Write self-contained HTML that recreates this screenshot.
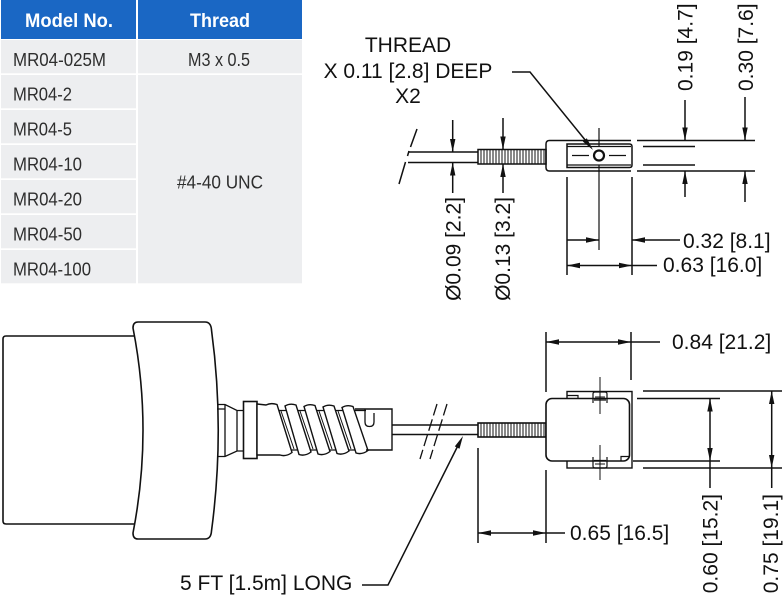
<!DOCTYPE html>
<html><head><meta charset="utf-8"><style>
html,body{margin:0;padding:0;background:#fff;overflow:hidden;}
svg{display:block;}
</style></head><body>
<svg width="783" height="599" viewBox="0 0 783 599" xmlns="http://www.w3.org/2000/svg">
<rect width="783" height="599" fill="#fff"/>
<!-- TABLE -->
<g>
<rect x="1" y="0" width="135" height="39" fill="#1a67c4"/>
<rect x="138" y="0" width="164" height="39" fill="#1a67c4"/>
<rect x="1" y="40" width="135" height="33.3" fill="#edeef0"/>
<rect x="1" y="75" width="135" height="33.3" fill="#edeef0"/>
<rect x="1" y="110" width="135" height="33.3" fill="#edeef0"/>
<rect x="1" y="145" width="135" height="33.3" fill="#edeef0"/>
<rect x="1" y="180" width="135" height="33.3" fill="#edeef0"/>
<rect x="1" y="215" width="135" height="33.3" fill="#edeef0"/>
<rect x="1" y="250" width="135" height="33.3" fill="#edeef0"/>
<rect x="138" y="40" width="164" height="33.3" fill="#edeef0"/>
<rect x="138" y="75" width="164" height="208.3" fill="#edeef0"/>
<g font-family="'Liberation Sans', Arial, sans-serif" font-weight="bold" font-size="19" fill="#fff">
<text x="25" y="27" textLength="88" lengthAdjust="spacingAndGlyphs">Model No.</text>
<text x="190" y="27" textLength="60" lengthAdjust="spacingAndGlyphs">Thread</text>
</g>
<g font-family="'Liberation Sans Narrow', 'Liberation Sans', Arial, sans-serif" font-size="18" fill="#2e2e2e">
<text x="13" y="66" textLength="93" lengthAdjust="spacingAndGlyphs">MR04-025M</text>
<text x="13" y="100.5" textLength="59" lengthAdjust="spacingAndGlyphs">MR04-2</text>
<text x="13" y="135.5" textLength="59" lengthAdjust="spacingAndGlyphs">MR04-5</text>
<text x="13" y="170.5" textLength="69" lengthAdjust="spacingAndGlyphs">MR04-10</text>
<text x="13" y="205.5" textLength="69" lengthAdjust="spacingAndGlyphs">MR04-20</text>
<text x="13" y="240.5" textLength="69" lengthAdjust="spacingAndGlyphs">MR04-50</text>
<text x="13" y="275.5" textLength="78" lengthAdjust="spacingAndGlyphs">MR04-100</text>
<text x="188" y="66" textLength="62" lengthAdjust="spacingAndGlyphs">M3 x 0.5</text>
<text x="177" y="188.5" textLength="86" lengthAdjust="spacingAndGlyphs">#4-40 UNC</text>
</g>
</g>

<!-- TOP RIGHT DETAIL -->
<g stroke="#111" fill="none" stroke-width="1.5">
<line x1="408" y1="152" x2="478" y2="152"/>
<line x1="408" y1="162.5" x2="478" y2="162.5"/>
<path d="M417,129 L410.5,147 M409,151 L407.5,156 M405.5,162 L399,184"/>
<rect x="478" y="149.5" width="68" height="14.5"/>
<path stroke-width="1" d="M481,149.5V164M484,149.5V164M487,149.5V164M490,149.5V164M493,149.5V164M496,149.5V164M499,149.5V164M502,149.5V164M505,149.5V164M508,149.5V164M511,149.5V164M514,149.5V164M517,149.5V164M520,149.5V164M523,149.5V164M526,149.5V164M529,149.5V164M532,149.5V164M535,149.5V164M538,149.5V164M541,149.5V164M544,149.5V164"/>
<path d="M631,140.5 H549.5 Q546,140.5 546,144 V167.5 Q546,171 549.5,171 H631"/>
<path d="M567,144 H629.5 Q632,144 632,146.5 V165 Q632,167.5 629.5,167.5 H567 Z"/>
<path stroke-width="1.2" d="M567,146.5 H631 M567,165 H631"/>
<circle cx="599" cy="155.5" r="5" stroke-width="2.2"/>
<path stroke-width="1.2" d="M572,155.5 H589 M609,155.5 H626 M599,128 V146 M599,165 V250"/>
<polyline points="512,72 530,72 588,143.5"/>
<!-- left dims -->
<path d="M452.7,120 V152 M452.7,193 V162.5 M503,118 V149.5 M503,193 V164"/>
<!-- right ext lines -->
<path d="M637,140.5 H755 M637,171 H755 M643,146.5 H695 M643,165 H695"/>
<path d="M685,100 V140.5 M685,197 V171 M745,97 V140.5 M745,202 V171"/>
<path d="M567,177 V275 M632,177 V275"/>
<path d="M567,240 H599 M632,240 H680 M567,265.5 H657"/>
</g>
<g fill="#111" stroke="none">
<polygon points="593,150 582.8,141.5 586.8,138.3"/>
<polygon points="452.7,152 450,139 455.4,139"/>
<polygon points="503,149.5 500.3,136.5 505.7,136.5"/>
<polygon points="685,140.5 682.3,127.5 687.7,127.5"/>
<polygon points="745,140.5 742.3,127.5 747.7,127.5"/>
<polygon points="452.7,162.5 450,175.5 455.4,175.5"/>
<polygon points="503,164 500.3,177 505.7,177"/>
<polygon points="685,171 682.3,184 687.7,184"/>
<polygon points="745,171 742.3,184 747.7,184"/>
<polygon points="599,240 586,237.3 586,242.7"/>
<polygon points="632,240 645,237.3 645,242.7"/>
<polygon points="632,265.5 619,262.8 619,268.2"/>
<polygon points="567,265.5 580,262.8 580,268.2"/>
</g>

<!-- BOTTOM DRAWING -->
<g stroke="#111" fill="none" stroke-width="1.6">
<path d="M134,336 H6 Q3,336 3,339 V521 Q3,524 6,524 H134"/>
<path fill="#fff" d="M138,322 H205 Q211,322 211.5,330 Q225,430 211.5,531 Q211,539 205,539 H138 Q133,539 133,533 Q153,430 133,328 Q133,322 138,322 Z"/>
<!-- neck -->
<path stroke-width="1.3" d="M217,404.5 H225 L237,410.5 H243.5 M217,409 H225 M217,456.5 H225 L237,451 H243.5 M225,404.5 V456.5 M237,410.5 V451"/>
<rect x="243.5" y="401.5" width="13.5" height="57" fill="#fff"/>
<!-- spring core -->
<path stroke-width="1.3" d="M257,410.5 H366 M257,450 H368"/>
<path stroke-width="1" d="M281,411 L294,449 M300,411 L313,449 M319,411 L332,449 M338,411 L351,449"/>
<path fill="#fff" stroke-width="1.4" d="M257,404 L266,405 Q271,402.5 277,404.5 L292,452.5 Q286,457 280,455 L257,455 Z"/>
<path fill="#fff" stroke-width="1.4" d="M285,406 Q290,403 296,405 L311,452 Q305,456.5 299,454.5 Z"/>
<path fill="#fff" stroke-width="1.4" d="M304,406.5 Q309,403.5 315,405.5 L330,451.5 Q324,456 318,454 Z"/>
<path fill="#fff" stroke-width="1.4" d="M323,407 Q328,404 334,406 L349,451 Q343,455.5 337,453.5 Z"/>
<path fill="#fff" stroke-width="1.4" d="M342,407.5 Q347,404.5 353,406.5 L368,450.5 Q362,455 356,453 Z"/>
<path stroke-width="1.4" d="M355,409 H392 V450 H366"/>
<path stroke-width="1.3" d="M365,409.5 V422 Q365,426.5 369.5,426.5 Q374,426.5 374,422 V413"/>
<!-- cable -->
<path d="M392,425 H478 M392,434.5 H478"/>
<path stroke-width="1.3" stroke-dasharray="12,4" d="M437,404 L420,459 M447,404 L430,459"/>
<rect x="478" y="423" width="68" height="14"/>
<path stroke-width="1" d="M481,423V437M484,423V437M487,423V437M490,423V437M493,423V437M496,423V437M499,423V437M502,423V437M505,423V437M508,423V437M511,423V437M514,423V437M517,423V437M520,423V437M523,423V437M526,423V437M529,423V437M532,423V437M535,423V437M538,423V437M541,423V437M544,423V437"/>
<!-- sensor head -->
<rect x="567" y="391.5" width="65" height="76.5" fill="#fff" stroke-width="1.4"/>
<rect x="546" y="398.5" width="83.5" height="62.5" rx="6" fill="#fff"/>
<path stroke-width="1.2" d="M567,395.5 H578 V398.5 M621,461 V456.5 H630"/>
<path stroke-width="1.2" d="M593,403 V394 Q593,392 595,392 H605 Q607,392 607,394 V403 M594,400 H606"/>
<path stroke-width="1.2" d="M593,457 V466 Q593,468 595,468 H605 Q607,468 607,466 V457 M594,460.5 H606"/>
<path stroke-width="1" d="M600,377 V414 M600,445 V480 M595,397 H605 M595,464 H605"/>
<!-- dims -->
<g stroke-width="1.5">
<path d="M643,391 H782 M637,398.5 H720 M633,461 H720 M643,468 H782"/>
<path d="M710,398.5 V488 M771.7,391 V488"/>
<path d="M546,332 V392 M631,332 V380 M546,342 H660"/>
<path d="M478,448 V543 M546,470 V543 M478,533 H565"/>
<polyline points="362,585 388,585 459,443.5"/>
</g>
</g>
<g fill="#111" stroke="none">
<polygon points="710,461 707.3,448 712.7,448"/>
<polygon points="771.7,468 769,455 774.4,455"/>
<polygon points="710,398.5 707.3,411.5 712.7,411.5"/>
<polygon points="771.7,391 769,404 774.4,404"/>
<polygon points="631,342 618,339.3 618,344.7"/>
<polygon points="546,342 559,339.3 559,344.7"/>
<polygon points="546,533 533,530.3 533,535.7"/>
<polygon points="478,533 491,530.3 491,535.7"/>
<polygon points="463,436 459.5,448.8 454.8,446.4"/>
</g>

<!-- LABELS -->
<g font-family="'Liberation Sans', Arial, sans-serif" font-size="21" fill="#111">
<text x="408" y="52" text-anchor="middle">THREAD</text>
<text x="408" y="78" text-anchor="middle">X 0.11 [2.8] DEEP</text>
<text x="408" y="103" text-anchor="middle">X2</text>
<text x="683" y="248">0.32 [8.1]</text>
<text x="663" y="272">0.63 [16.0]</text>
<text x="672" y="349">0.84 [21.2]</text>
<text x="570" y="540">0.65 [16.5]</text>
<text x="180" y="590">5 FT [1.5m] LONG</text>
<text transform="translate(460.5,197) rotate(-90)" text-anchor="end">Ø0.09 [2.2]</text>
<text transform="translate(510,197) rotate(-90)" text-anchor="end">Ø0.13 [3.2]</text>
<text transform="translate(692.5,91) rotate(-90)">0.19 [4.7]</text>
<text transform="translate(753,91) rotate(-90)">0.30 [7.6]</text>
<text transform="translate(717.5,494) rotate(-90)" text-anchor="end">0.60 [15.2]</text>
<text transform="translate(778,494) rotate(-90)" text-anchor="end">0.75 [19.1]</text>
</g>
</svg>
</body></html>
